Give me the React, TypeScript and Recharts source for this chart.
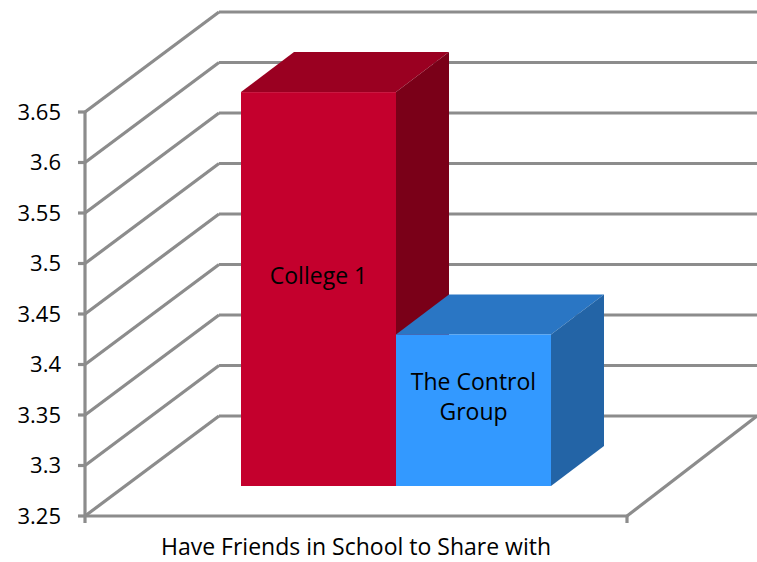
import { BarChart, Bar, XAxis, YAxis, CartesianGrid } from "recharts";

const categories = ["Have Friends in School to Share with"];
const college1 = [3.64];
const controlGroup = [3.4];
const yTicks = [3.25, 3.3, 3.35, 3.4, 3.45, 3.5, 3.55, 3.6, 3.65];
const seriesNames = { college1: ["College 1"], control: ["The Control", "Group"] };

const data = categories.map((cat, i) => ({
  cat,
  college1: college1[i],
  control: controlGroup[i],
}));

const GRID = "#8c8c8c";
// wall depth offset and bar depth offset (Excel style 3D)
const WALL_DX = 134;
const WALL_DY = -100;
const BAR_SHIFT_X = 40;
const BAR_SHIFT_Y = -30;
const BAR_DX = 53;
const BAR_DY = -40;

function GridLine(props: any) {
  const { x1, x2, y1, index } = props;
  const bx = x1 + WALL_DX;
  const by = y1 + WALL_DY;
  return (
    <g key={`g-${index}`}>
      <line x1={x1} y1={y1} x2={bx} y2={by} stroke={GRID} strokeWidth={3.2} />
      <line x1={bx} y1={by} x2={770} y2={by} stroke={GRID} strokeWidth={3.2} />
      {index === 0 && (
        <>
          <line x1={x2} y1={y1} x2={x2 + 130} y2={y1 + WALL_DY} stroke={GRID} strokeWidth={3.2} />
          <line x1={x2} y1={y1} x2={x2} y2={y1 + 7} stroke={GRID} strokeWidth={3.2} />
          <line x1={x1} y1={y1} x2={x1} y2={y1 + 7} stroke={GRID} strokeWidth={3.2} />
        </>
      )}
    </g>
  );
}

function makeBox(front: string, top: string, side: string, lines: string[]) {
  return (p: any) => {
    const { x, y, width: w, height: h } = p;
    if (w == null || h == null) return <g />;
    const fx = x + BAR_SHIFT_X;
    const fy = y + BAR_SHIFT_Y;
    const topPts = `${fx},${fy} ${fx + BAR_DX},${fy + BAR_DY} ${fx + w + BAR_DX},${fy + BAR_DY} ${fx + w},${fy}`;
    const sidePts = `${fx + w},${fy} ${fx + w + BAR_DX},${fy + BAR_DY} ${fx + w + BAR_DX},${fy + h + BAR_DY} ${fx + w},${fy + h}`;
    const cx = fx + w / 2;
    const cy = fy + h / 2 - 14;
    const lh = 30;
    const startY = cy - ((lines.length - 1) * lh) / 2;
    return (
      <g>
        <polygon points={topPts} fill={top} />
        <polygon points={sidePts} fill={side} />
        <rect x={fx} y={fy} width={w} height={h} fill={front} />
        {lines.map((t, i) => (
          <text
            key={i}
            x={cx}
            y={startY + i * lh}
            textAnchor="middle"
            dominantBaseline="central"
            fontSize={23}
            fill="#000"
          >
            {t}
          </text>
        ))}
      </g>
    );
  };
}

export default function App() {
  return (
    <div
      style={{
        position: "absolute",
        left: 0,
        top: 0,
        width: 757,
        height: 562,
        background: "#fff",
        fontFamily: "'Open Sans', Lato, sans-serif",
      }}
    >
      <BarChart
        width={757}
        height={562}
        data={data}
        margin={{ top: 112, right: 130, bottom: 16, left: 0 }}
        barGap={0}
        barSize={155}
      >
        <CartesianGrid vertical={false} horizontal={GridLine} />
        <XAxis
          dataKey="cat"
          axisLine={{ stroke: GRID, strokeWidth: 3.2 }}
          tickLine={false}
          tickMargin={17}
          height={30}
          tick={{ fill: "#000", fontSize: 23 }}
        />
        <YAxis
          domain={[3.25, 3.65]}
          ticks={yTicks}
          width={85}
          axisLine={{ stroke: GRID, strokeWidth: 3.2 }}
          tickLine={{ stroke: GRID, strokeWidth: 3.2 }}
          tickSize={7}
          tickMargin={17}
          tick={{ fill: "#000", fontSize: 22 }}
        />
        <Bar
          dataKey="college1"
          isAnimationActive={false}
          shape={makeBox("#c4002d", "#9a0021", "#7a0018", seriesNames.college1)}
        />
        <Bar
          dataKey="control"
          isAnimationActive={false}
          shape={makeBox("#3399ff", "#2a76c4", "#2364a6", seriesNames.control)}
        />
      </BarChart>
    </div>
  );
}
